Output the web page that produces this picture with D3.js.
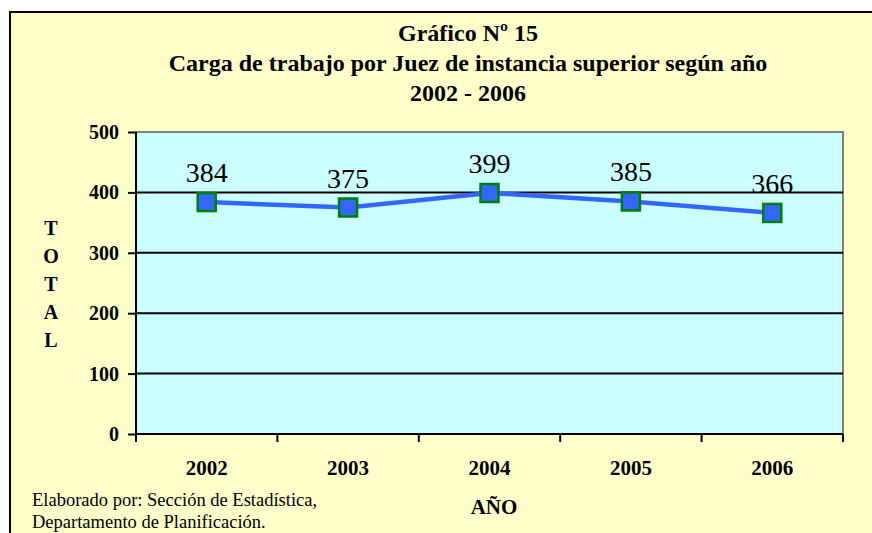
<!DOCTYPE html>
<html><head><meta charset="utf-8">
<script src="https://cdn.jsdelivr.net/npm/d3@7"></script>
<style>body{margin:0;background:#fff}svg{display:block}</style>
</head><body>
<svg id="c" width="872" height="533"></svg>
<script>
const categories = ["2002","2003","2004","2005","2006"];
const values = [384, 375, 399, 385, 366];
const yTicks = [0,100,200,300,400,500];
const titleLines = ["Gráfico Nº 15","Carga de trabajo por Juez de instancia superior según año","2002 - 2006"];
const yTitle = ["T","O","T","A","L"];
const xTitle = "AÑO";
const footer = ["Elaborado por: Sección de Estadística,","Departamento de Planificación."];

const svg = d3.select("#c");
const font = "Liberation Serif, Times New Roman, serif";
svg.append("rect").attr("x",10).attr("y",12).attr("width",880).attr("height",540)
  .attr("fill","#FFFFCC").attr("stroke","#000").attr("stroke-width",2);

const L=136,R=843,T=132,B=434;
const x = d3.scaleBand().domain(categories).range([L,R]);
const y = d3.scaleLinear().domain([0,500]).range([B,T]);

svg.append("rect").attr("x",L).attr("y",T).attr("width",R-L).attr("height",B-T)
  .attr("fill","#CCFFFF").attr("stroke","#808080").attr("stroke-width",2);

svg.append("g").selectAll("line").data(yTicks.filter(d=>d>0&&d<500)).join("line")
  .attr("x1",L).attr("x2",R).attr("y1",d=>y(d)).attr("y2",d=>y(d))
  .attr("stroke","#000").attr("stroke-width",2);

const ya = svg.append("g").attr("transform",`translate(${L},0)`)
  .call(d3.axisLeft(y).tickValues(yTicks).tickSize(8).tickPadding(9).tickFormat(d3.format("d")));
ya.attr("font-family",null).attr("font-size",null);
ya.select(".domain").attr("stroke","#000").attr("stroke-width",2).attr("d",`M0,${T}V${B}`);
ya.selectAll(".tick line").attr("stroke","#000").attr("stroke-width",2);
ya.selectAll("text").style("font-family",font).style("font-weight","bold").style("font-size","20px").attr("fill","#000");

const xa = svg.append("g").attr("transform",`translate(0,${B})`)
  .call(d3.axisBottom(x).tickSize(0).tickPadding(26));
xa.attr("font-family",null).attr("font-size",null);
xa.select(".domain").attr("stroke","#000").attr("stroke-width",2).attr("d",`M${L},0H${R}`);
xa.selectAll("text").style("font-family",font).style("font-weight","bold").style("font-size","21px").attr("fill","#000");
const bounds = categories.map(c=>x(c)).concat([R]);
svg.append("g").selectAll("line").data(bounds).join("line")
  .attr("x1",d=>d).attr("x2",d=>d).attr("y1",B).attr("y2",B+8)
  .attr("stroke","#000").attr("stroke-width",2);

const cx = d=>x(d)+x.bandwidth()/2;
const line = d3.line().x((d,i)=>cx(categories[i])).y(d=>y(d));
svg.append("path").datum(values).attr("d",line).attr("fill","none")
  .attr("stroke","#3366FF").attr("stroke-width",4.5);
svg.append("g").selectAll("rect").data(values).join("rect")
  .attr("x",(d,i)=>cx(categories[i])-9).attr("y",d=>y(d)-9)
  .attr("width",18).attr("height",18).attr("fill","#3366FF").attr("stroke","#008000").attr("stroke-width",2.5);
svg.append("g").selectAll("text").data(values).join("text")
  .attr("x",(d,i)=>cx(categories[i])).attr("y",d=>y(d)-20)
  .attr("text-anchor","middle").style("font-family",font).style("font-size","28px").attr("fill","#000")
  .text(d=>d);

svg.append("g").selectAll("text").data(titleLines).join("text")
  .attr("x",468).attr("y",(d,i)=>41+i*30).attr("text-anchor","middle")
  .style("font-family",font).style("font-weight","bold").style("font-size","24px").text(d=>d);

svg.append("g").selectAll("text").data(yTitle).join("text")
  .attr("x",51).attr("y",(d,i)=>235+i*28).attr("text-anchor","middle")
  .style("font-family",font).style("font-weight","bold").style("font-size","20px").text(d=>d);

svg.append("text").attr("x",494).attr("y",514).attr("text-anchor","middle")
  .style("font-family",font).style("font-weight","bold").style("font-size","21px").text(xTitle);

svg.append("g").selectAll("text").data(footer).join("text")
  .attr("x",32).attr("y",(d,i)=>506+i*22)
  .style("font-family",font).style("font-size","18.5px").text(d=>d);
</script>
</body></html>
